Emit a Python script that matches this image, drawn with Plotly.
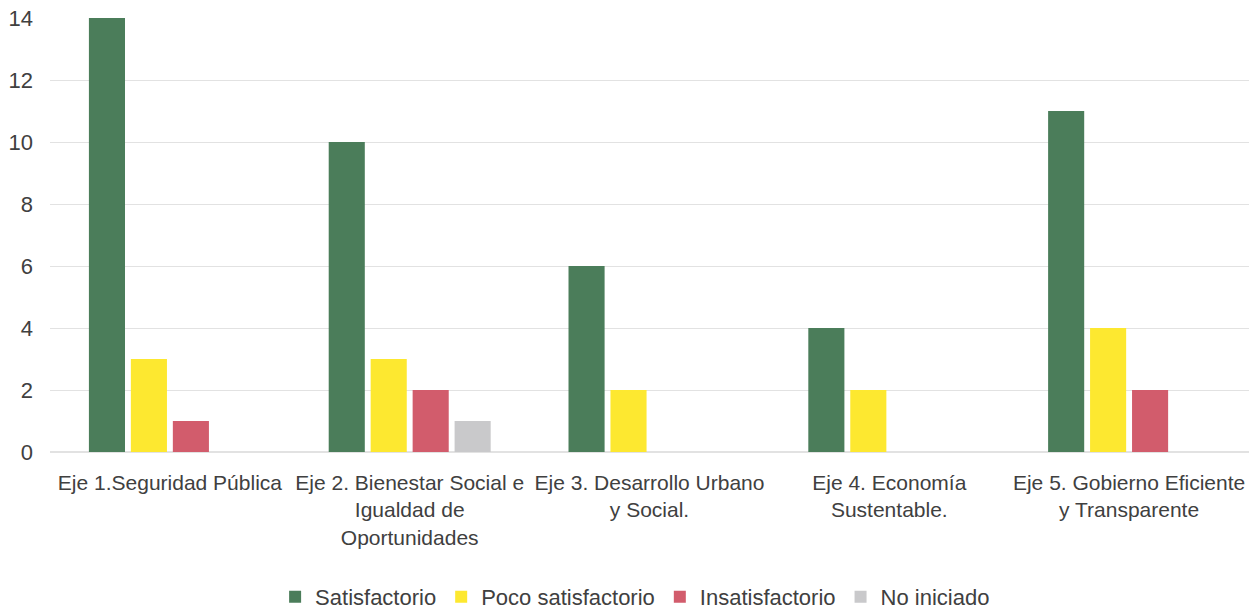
import plotly.graph_objects as go

categories = [
    "Eje 1.Seguridad Pública",
    "Eje 2. Bienestar Social e<br>Igualdad de<br>Oportunidades",
    "Eje 3. Desarrollo Urbano<br>y Social.",
    "Eje 4. Economía<br>Sustentable.",
    "Eje 5. Gobierno Eficiente<br>y Transparente",
]
series_names = ["Satisfactorio", "Poco satisfactorio", "Insatisfactorio", "No iniciado"]
satisfactorio = [14, 10, 6, 4, 11]
poco_satisfactorio = [3, 3, 2, 2, 4]
insatisfactorio = [1, 2, 0, 0, 2]
no_iniciado = [0, 1, 0, 0, 0]
y_ticks = [0, 2, 4, 6, 8, 10, 12, 14]

colors = ["#4b7d5a", "#fde830", "#d25c6c", "#c9c9cb"]
values = [satisfactorio, poco_satisfactorio, insatisfactorio, no_iniciado]

FONT = "Liberation Sans, sans-serif"

fig = go.Figure()
for name, vals, col in zip(series_names, values, colors):
    fig.add_trace(go.Bar(name=name, x=categories, y=vals, marker=dict(color=col, line=dict(width=0))))

fig.update_layout(
    width=1260, height=611,
    margin=dict(l=50, r=11, t=18, b=159, autoexpand=False),
    paper_bgcolor="white", plot_bgcolor="white",
    barmode="group", bargap=0.3, bargroupgap=0.14,
    font=dict(family=FONT, size=21, color="#404040"),
    showlegend=True,
    legend=dict(orientation="h", x=0.488, xanchor="center", y=0.023, yanchor="middle",
                yref="container",
                font=dict(size=22, color="#404040"), traceorder="normal",
                itemwidth=30, tracegroupgap=0),
    xaxis=dict(showgrid=False, showline=False, ticks="", automargin=False,
               tickfont=dict(size=21, color="#404040"), ticklabelstandoff=16),
    yaxis=dict(range=[0, 14], tickvals=y_ticks, showgrid=True, gridcolor="#e2e2e2",
               gridwidth=1, zeroline=True, zerolinecolor="#e2e2e2", showline=False,
               automargin=False,
               ticks="", tickfont=dict(size=22, color="#404040"), ticklabelstandoff=16),
)

fig.write_html(
    "out.html",
    config={"displayModeBar": False},
    post_script="document.body.style.margin='0';document.body.style.overflow='hidden';",
)
